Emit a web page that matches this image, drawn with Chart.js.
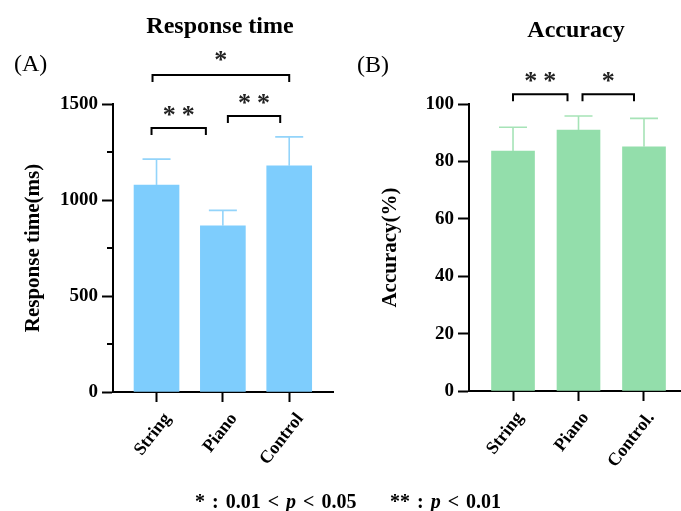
<!DOCTYPE html>
<html><head><meta charset="utf-8">
<script src="https://cdn.jsdelivr.net/npm/chart.js@4/dist/chart.umd.min.js"></script>
<style>
html,body{margin:0;padding:0;background:#fff;width:681px;height:511px;overflow:hidden;position:relative;font-family:"Liberation Serif","Times New Roman",serif;}
canvas{position:absolute;top:0;}
#cA{left:0} #cB{left:340px}
.t{position:absolute;white-space:pre;color:#000;line-height:1;}
.b{font-weight:bold;}
</style></head><body>
<canvas id="cA" width="340" height="511"></canvas>
<canvas id="cB" width="341" height="511"></canvas>
<div class="t b" style="left:220px;top:13px;font-size:24px;transform:translateX(-50%)">Response time</div>
<div class="t b" style="left:576px;top:17px;font-size:24px;transform:translateX(-50%)">Accuracy</div>
<div class="t" style="left:14px;top:51px;font-size:24px">(A)</div>
<div class="t" style="left:357px;top:52px;font-size:24px">(B)</div>
<div class="t b" style="left:195px;top:491px;font-size:20px;word-spacing:2px">* : 0.01 &lt; <i>p</i> &lt; 0.05</div>
<div class="t b" style="left:390px;top:491px;font-size:20px;word-spacing:2px">** : <i>p</i> &lt; 0.01</div>
<script>
// ---- data ----
const categoriesA = ['String', 'Piano', 'Control'];
const rtMeans = [1078, 866, 1178];
const rtSD = [135, 80, 151];
const rtTickStep = 500;
const rtMax = 1500;

const categoriesB = ['String', 'Piano', 'Control.'];
const accMeans = [83.6, 90.9, 85.1];
const accSD = [8.3, 4.9, 9.9];
const accTickStep = 20;
const accMax = 100;

const sigA = [[0, 2, '*'], [0, 1, '**'], [1, 2, '**']];
const sigB = [[0, 1, '**'], [1, 2, '*']];

// ---- helpers ----
Chart.defaults.font.family = '"Liberation Serif","Times New Roman",serif';
Chart.defaults.color = '#000';

const errorBars = {
  id: 'errorBars',
  afterDatasetsDraw(chart, args, opts) {
    const {ctx, scales: {x, y}} = chart;
    ctx.save();
    ctx.strokeStyle = opts.color;
    ctx.lineWidth = 1.6;
    opts.means.forEach((m, i) => {
      const px = x.getPixelForValue(i);
      const y0 = y.getPixelForValue(m);
      const y1 = y.getPixelForValue(m + opts.sd[i]);
      ctx.beginPath();
      ctx.moveTo(px, y0); ctx.lineTo(px, y1);
      ctx.moveTo(px - opts.cap / 2, y1); ctx.lineTo(px + opts.cap / 2, y1);
      ctx.stroke();
    });
    ctx.restore();
  }
};

const minorTicks = {
  id: 'minorTicks',
  afterDraw(chart, args, opts) {
    if (!opts.step) return;
    const {ctx, scales: {y}} = chart;
    ctx.save();
    ctx.strokeStyle = '#000';
    ctx.lineWidth = 2;
    y.ticks.forEach(t => {
      if (t.value % opts.step !== 0) {
        const py = y.getPixelForValue(t.value);
        ctx.beginPath();
        ctx.moveTo(y.right - opts.len, py); ctx.lineTo(y.right, py);
        ctx.stroke();
      }
    });
    ctx.restore();
  }
};

const brackets = {
  id: 'brackets',
  afterDraw(chart, args, opts) {
    const {ctx, scales: {x, y}} = chart;
    ctx.save();
    ctx.strokeStyle = '#000';
    ctx.fillStyle = '#222';
    ctx.lineWidth = 2;
    opts.pairs.forEach((p, k) => {
      const g = opts.geom[k];
      const x0 = x.getPixelForValue(p[0]) + g.dx[0];
      const x1 = x.getPixelForValue(p[1]) + g.dx[1];
      const py = y.getPixelForValue(g.y);
      ctx.beginPath();
      ctx.moveTo(x0, py + 7); ctx.lineTo(x0, py); ctx.lineTo(x1, py); ctx.lineTo(x1, py + 7);
      ctx.stroke();
      const cx = (x0 + x1) / 2;
      const cy = py - g.gap;
      ctx.font = 'bold 26px "Liberation Serif"';
      ctx.textAlign = 'center';
      ctx.textBaseline = 'alphabetic';
      const n = p[2].length;
      for (let s = 0; s < n; s++) {
        const sx = cx + (s - (n - 1) / 2) * 19;
        ctx.fillText('*', sx, cy + 12);
      }
    });
    ctx.restore();
  }
};

function makeChart(id, cats, means, sd, color, errColor, cfg) {
  return new Chart(document.getElementById(id), {
    type: 'bar',
    data: {
      datasets: [{
        data: cats.map((c, i) => ({x: i, y: means[i]})),
        backgroundColor: color,
        borderWidth: 0,
        barThickness: cfg.barW
      }]
    },
    options: {
      responsive: false,
      animation: false,
      devicePixelRatio: 1,
      layout: {padding: {top: 104, right: cfg.padR, bottom: 0, left: 0}},
      plugins: {
        legend: {display: false},
        tooltip: {enabled: false},
        errorBars: {means: means, sd: sd, color: errColor, cap: 28},
        minorTicks: {step: cfg.minorStep, len: 6},
        brackets: {pairs: cfg.pairs, geom: cfg.geom}
      },
      scales: {
        x: {
          type: 'linear',
          offset: false,
          bounds: 'data',
          min: cfg.xMin, max: cfg.xMax,
          afterBuildTicks: s => { s.ticks = cats.map((c, i) => ({value: i})); },
          afterFit: s => { s.height = cfg.xH; },
          grid: {offset: false, drawOnChartArea: false, tickLength: 10, tickWidth: 2, tickColor: '#000'},
          border: {color: '#000', width: 2},
          ticks: {
            callback: v => cats[v],
            minRotation: 52, maxRotation: 52, autoSkip: false,
            padding: 7,
            labelOffset: cfg.labelOff,
            font: {size: 18, weight: 'bold'}
          }
        },
        y: {
          min: 0, max: cfg.yMax,
          afterFit: s => { s.width = cfg.yW; },
          grid: {
            drawOnChartArea: false, tickLength: 11, tickWidth: 2,
            tickColor: c => (c.tick && c.tick.value % cfg.majorStep === 0) ? '#000' : 'rgba(0,0,0,0)'
          },
          border: {color: '#000', width: 2},
          ticks: {
            stepSize: cfg.tickStep,
            padding: 4,
            callback: v => (v % cfg.majorStep === 0 ? v : ''),
            font: {size: 19, weight: 'bold'}
          },
          title: {
            display: true, text: cfg.yTitle,
            font: {size: 21, weight: 'bold'},
            padding: {top: cfg.titlePad, bottom: 0}
          }
        }
      }
    },
    plugins: [errorBars, minorTicks, brackets]
  });
}

makeChart('cA', categoriesA, rtMeans, rtSD, '#7ECDFD', '#93D4FA', {
  barW: 45, padR: 7, xMin: -0.656, xMax: 2.66, xH: 119, yW: 113, yMax: rtMax,
  tickStep: rtTickStep / 2, majorStep: rtTickStep, minorStep: rtTickStep,
  yTitle: 'Response time(ms)', titlePad: 21, labelOff: 11,
  pairs: sigA,
  geom: [
    {y: 1651, dx: [-4, 0], gap: 19},
    {y: 1375, dx: [-5, -17], gap: 17},
    {y: 1437, dx: [5, -9], gap: 17}
  ]
});

makeChart('cB', categoriesB, accMeans, accSD, '#93DEAB', '#A6E3B7', {
  barW: 43, padR: 0, xMin: -0.672, xMax: 2.565, xH: 120, yW: 129, yMax: accMax,
  tickStep: accTickStep, majorStep: accTickStep, minorStep: 0,
  yTitle: 'Accuracy(%)', titlePad: 38, labelOff: 7,
  pairs: sigB,
  geom: [
    {y: 103.4, dx: [0, -11], gap: 17},
    {y: 103.4, dx: [4, -10], gap: 17}
  ]
});
</script>
</body></html>
